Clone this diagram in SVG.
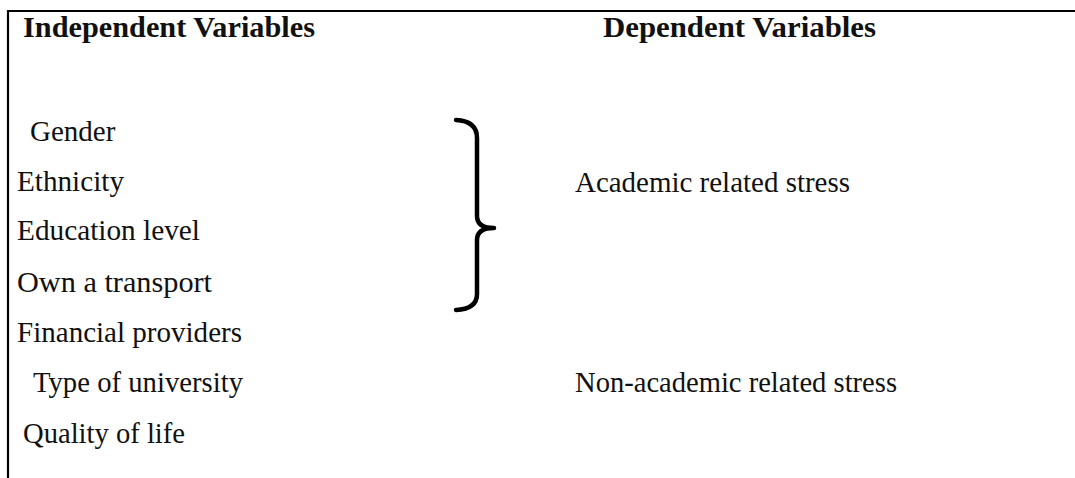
<svg xmlns="http://www.w3.org/2000/svg" width="1075" height="478" viewBox="0 0 1075 478">
<style>
.t{font-family:"Liberation Serif","Times New Roman",serif;font-size:29px;fill:#111}
.b{font-weight:bold}
.ln{stroke:#000;stroke-width:2.2;fill:none}
.br{stroke:#000;stroke-width:4.5;fill:none;stroke-linecap:round;stroke-linejoin:round}
</style>
<rect width="1075" height="478" fill="#fff"/>
<g id="frame">
<line class="ln" x1="7" y1="11" x2="1075" y2="11"/>
<line class="ln" x1="8" y1="10" x2="8" y2="478"/>
</g>
<g id="headers">
<text class="t b" x="23" y="37" textLength="292" lengthAdjust="spacingAndGlyphs">Independent Variables</text>
<text class="t b" x="603" y="37" textLength="273" lengthAdjust="spacingAndGlyphs">Dependent Variables</text>
</g>
<g id="independent">
<text class="t" x="30" y="141">Gender</text>
<text class="t" x="17" y="191" textLength="107" lengthAdjust="spacingAndGlyphs">Ethnicity</text>
<text class="t" x="17" y="240" textLength="183" lengthAdjust="spacingAndGlyphs">Education level</text>
<text class="t" x="17" y="292" textLength="195" lengthAdjust="spacingAndGlyphs">Own a transport</text>
<text class="t" x="17" y="342" textLength="225" lengthAdjust="spacingAndGlyphs">Financial providers</text>
<text class="t" x="33" y="392" textLength="210" lengthAdjust="spacingAndGlyphs">Type of university</text>
<text class="t" x="23" y="443" textLength="162" lengthAdjust="spacingAndGlyphs">Quality of life</text>
</g>
<g id="dependent">
<text class="t" x="575" y="192" textLength="275" lengthAdjust="spacingAndGlyphs">Academic related stress</text>
<text class="t" x="575" y="392" textLength="322" lengthAdjust="spacingAndGlyphs">Non-academic related stress</text>
</g>
<g id="connectors">
<path class="br" d="M456,120 Q477,121 477,138 L477,216 Q477,228 494,228 Q477,228 477,240 L477,294 Q477,309 456,310"/>
</g>
</svg>
